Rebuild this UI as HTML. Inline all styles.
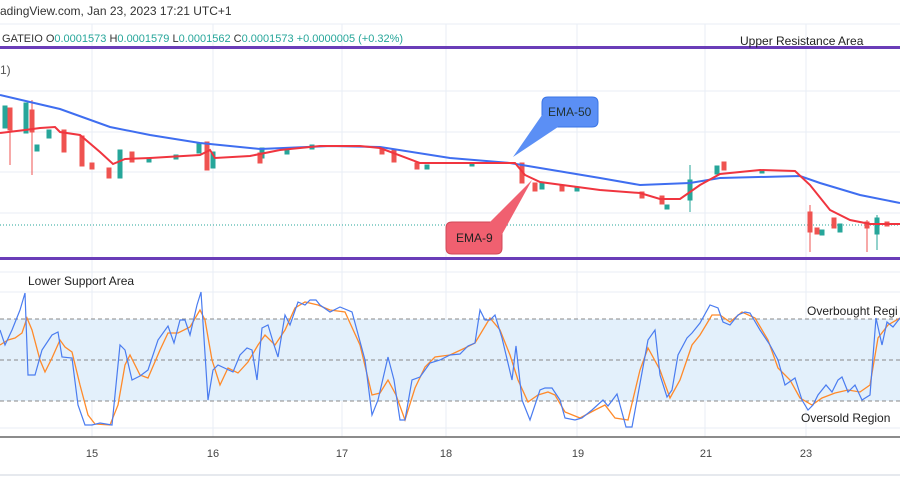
<!DOCTYPE html>
<html><head><meta charset="utf-8"><style>
html,body{margin:0;padding:0;background:#fff;}
svg{display:block;font-family:"Liberation Sans",sans-serif;}
</style></head><body>
<svg width="900" height="500" viewBox="0 0 900 500" xmlns="http://www.w3.org/2000/svg">
<rect width="900" height="500" fill="#fff"/>
<!-- grid -->
<g stroke="#e8eef6" stroke-width="1">
<line x1="0" y1="24" x2="900" y2="24"/>
<line x1="0" y1="91" x2="900" y2="91"/>
<line x1="0" y1="132" x2="900" y2="132"/>
<line x1="0" y1="172" x2="900" y2="172"/>
<line x1="0" y1="213" x2="900" y2="213"/>
<line x1="0" y1="272" x2="900" y2="272"/>
<line x1="0" y1="292" x2="900" y2="292"/>
<line x1="0" y1="428" x2="900" y2="428"/>
<line x1="92" y1="24" x2="92" y2="437"/>
<line x1="213" y1="24" x2="213" y2="437"/>
<line x1="342" y1="24" x2="342" y2="437"/>
<line x1="446" y1="24" x2="446" y2="437"/>
<line x1="577" y1="24" x2="577" y2="437"/>
<line x1="705" y1="24" x2="705" y2="437"/>
<line x1="806" y1="24" x2="806" y2="437"/>
</g>
<text x="0" y="15" font-size="12" fill="#333">adingView.com, Jan 23, 2023 17:21 UTC+1</text>
<text x="2" y="42" font-size="11" fill="#333">GATEIO <tspan fill="#333">O</tspan><tspan fill="#26a69a">0.0001573</tspan>  <tspan>H</tspan><tspan fill="#26a69a">0.0001579</tspan>  <tspan>L</tspan><tspan fill="#26a69a">0.0001562</tspan>  <tspan>C</tspan><tspan fill="#26a69a">0.0001573</tspan>  <tspan fill="#26a69a">+0.0000005 (+0.32%)</tspan></text>
<text x="0" y="74" font-size="12" fill="#555">1)</text>
<line x1="0" y1="47.5" x2="900" y2="47.5" stroke="#6a3db8" stroke-width="3"/>
<text x="740" y="45" font-size="12" fill="#222">Upper Resistance Area</text>
<line x1="0" y1="225" x2="900" y2="225" stroke="#26a69a" stroke-width="1" stroke-dasharray="1,2"/>
<!-- candles -->
<g stroke-width="1">
<g fill="#26a69a" stroke="#26a69a">
<rect x="3" y="106" width="4" height="22"/><rect x="24" y="103" width="4" height="30"/><rect x="35" y="145" width="4" height="6"/><rect x="47" y="130" width="4" height="8"/>
<rect x="118" y="150" width="4" height="28"/><rect x="147" y="158" width="4" height="4"/><rect x="174" y="155" width="4" height="4"/><rect x="197" y="143" width="4" height="10"/>
<rect x="211" y="152" width="4" height="16"/><rect x="260" y="148" width="4" height="10"/><rect x="285" y="148" width="4" height="6"/><rect x="310" y="145" width="4" height="4"/>
<rect x="425" y="165" width="4" height="4"/><rect x="470" y="163" width="4" height="3"/><rect x="540" y="183" width="4" height="6"/><rect x="575" y="188" width="4" height="3"/>
<rect x="665" y="205" width="4" height="4"/><rect x="688" y="180" width="4" height="20"/><rect x="715" y="166" width="4" height="8"/><rect x="760" y="170" width="4" height="3"/>
<rect x="820" y="230" width="4" height="5"/><rect x="838" y="224" width="4" height="8"/><rect x="875" y="218" width="4" height="16"/>
</g>
<g fill="#ef5350" stroke="#ef5350">
<rect x="8" y="108" width="4" height="22"/><rect x="30" y="110" width="4" height="22"/><rect x="62" y="130" width="4" height="22"/><rect x="80" y="136" width="4" height="30"/>
<rect x="90" y="163" width="4" height="6"/><rect x="107" y="168" width="4" height="10"/><rect x="130" y="152" width="4" height="10"/><rect x="205" y="142" width="4" height="28"/>
<rect x="258" y="153" width="4" height="10"/><rect x="380" y="148" width="4" height="6"/><rect x="392" y="150" width="4" height="12"/><rect x="415" y="163" width="4" height="6"/>
<rect x="520" y="163" width="4" height="20"/><rect x="533" y="183" width="4" height="8"/><rect x="560" y="185" width="4" height="6"/><rect x="640" y="192" width="4" height="6"/>
<rect x="660" y="196" width="4" height="8"/><rect x="722" y="162" width="4" height="8"/><rect x="808" y="212" width="4" height="20"/><rect x="815" y="228" width="4" height="6"/>
<rect x="832" y="218" width="4" height="10"/><rect x="865" y="222" width="4" height="6"/><rect x="885" y="222" width="4" height="4"/>
</g>
<g stroke="#ef5350"><line x1="10" y1="128" x2="10" y2="165"/><line x1="32" y1="100" x2="32" y2="175"/><line x1="810" y1="205" x2="810" y2="252"/><line x1="867" y1="220" x2="867" y2="252"/></g>
<g stroke="#26a69a"><line x1="690" y1="165" x2="690" y2="212"/><line x1="877" y1="215" x2="877" y2="250"/></g>
</g>
<!-- EMA50 -->
<polyline fill="none" stroke="#3f6ef0" stroke-width="2" points="0,95 30,102 60,109 110,127 150,135 200,143 260,149 330,146 380,147 450,158 510,163 540,168 600,178 640,185 690,183 720,178 800,176 820,183 860,195 900,203"/>
<!-- EMA9 -->
<polyline fill="none" stroke="#f0353f" stroke-width="2" points="0,133 25,130 40,128 55,127 60,132 80,135 100,152 113,164 125,159 150,158 200,155 210,150 215,158 250,156 280,150 320,146 360,146 380,148 420,163 480,163 515,163 525,175 540,182 600,190 640,193 660,199 680,199 700,185 720,174 760,170 795,171 810,185 830,210 850,220 870,224 900,224"/>
<!-- callouts -->
<path d="M548,97 H592 Q598,97 598,103 V121 Q598,127 592,127 H548 Q542,127 542,121 V103 Q542,97 548,97 Z" fill="#5b8ff5" stroke="#3a75e6"/>
<polygon points="542,115 513,157 558,127" fill="#5b8ff5"/>
<text x="548" y="116" font-size="12" fill="#233">EMA-50</text>
<path d="M452,222 H496 Q502,222 502,228 V248 Q502,254 496,254 H452 Q446,254 446,248 V228 Q446,222 452,222 Z" fill="#f06070" stroke="#d04858"/>
<polygon points="490,222 532,180 500,238" fill="#f06070"/>
<text x="456" y="242" font-size="12" fill="#222">EMA-9</text>
<line x1="0" y1="258.5" x2="900" y2="258.5" stroke="#6a3db8" stroke-width="3"/>
<!-- lower pane -->
<text x="28" y="285" font-size="12" fill="#222">Lower Support Area</text>
<rect x="0" y="319" width="900" height="82" fill="#e3f0fb"/>
<g stroke="#888" stroke-dasharray="4,3"><line x1="0" y1="319" x2="900" y2="319"/><line x1="0" y1="360" x2="900" y2="360"/><line x1="0" y1="401" x2="900" y2="401"/></g>
<text x="807" y="315" font-size="12" fill="#222">Overbought Regi</text>
<text x="801" y="422" font-size="12" fill="#222">Oversold Region</text>
<polyline fill="none" stroke="#ff8a2a" stroke-width="1.3" points="0,345 8,340 15,338 22,333 27,318 32,330 40,360 45,372 52,358 60,340 65,347 72,352 80,385 88,415 95,424 110,425 118,405 125,365 130,355 140,375 148,378 160,350 168,333 178,333 190,327 200,310 205,320 212,360 220,385 228,368 238,373 248,362 258,345 265,335 275,345 285,330 295,308 305,302 318,305 330,310 345,312 360,345 372,395 380,393 388,380 396,395 405,420 415,388 425,367 435,357 450,355 465,348 475,343 490,318 500,330 510,355 518,380 528,402 538,395 548,392 555,395 565,412 580,418 595,410 605,405 615,418 628,420 640,370 648,348 660,370 670,398 680,380 692,345 700,335 712,315 720,315 730,322 742,312 755,318 768,340 778,368 790,380 800,398 812,405 822,398 835,393 848,390 860,392 870,385 878,338 888,325 900,318"/>
<polyline fill="none" stroke="#4a7cf0" stroke-width="1.2" points="0,330 5,345 12,330 20,310 25,293 28,375 35,375 42,350 52,335 58,332 62,357 72,358 78,405 85,425 92,425 100,423 112,425 120,345 125,350 132,380 140,376 148,370 158,340 168,326 174,343 180,320 185,320 190,335 197,305 201,292 208,400 213,370 218,365 233,372 240,355 247,348 252,350 257,380 262,328 268,325 274,345 278,357 285,315 290,325 298,302 305,305 310,300 316,300 320,305 330,312 340,307 352,312 365,360 372,415 378,400 388,357 394,380 400,420 405,420 412,380 420,377 430,363 440,360 450,355 460,354 468,346 475,343 480,310 485,320 490,320 495,315 502,338 512,380 516,346 522,400 530,420 540,390 545,388 552,388 560,400 565,418 575,420 582,418 592,410 603,400 608,406 617,394 626,427 632,427 648,340 655,330 660,375 667,397 672,390 678,355 687,338 692,333 700,323 710,305 718,308 723,322 730,325 738,315 745,312 750,313 760,330 770,345 778,360 785,385 795,378 802,400 808,410 813,405 818,395 826,385 832,392 838,380 842,377 848,392 855,385 862,400 870,395 876,318 882,345 887,322 893,327 900,318"/>
<line x1="0" y1="437" x2="900" y2="437" stroke="#666" stroke-width="1.5"/>
<g font-size="11" fill="#444" text-anchor="middle">
<text x="92" y="457">15</text><text x="213" y="457">16</text><text x="342" y="457">17</text><text x="446" y="457">18</text><text x="578" y="457">19</text><text x="706" y="457">21</text><text x="806" y="457">23</text>
</g>
<line x1="0" y1="475" x2="900" y2="475" stroke="#e6e9ee" stroke-width="2"/>
</svg>
</body></html>
